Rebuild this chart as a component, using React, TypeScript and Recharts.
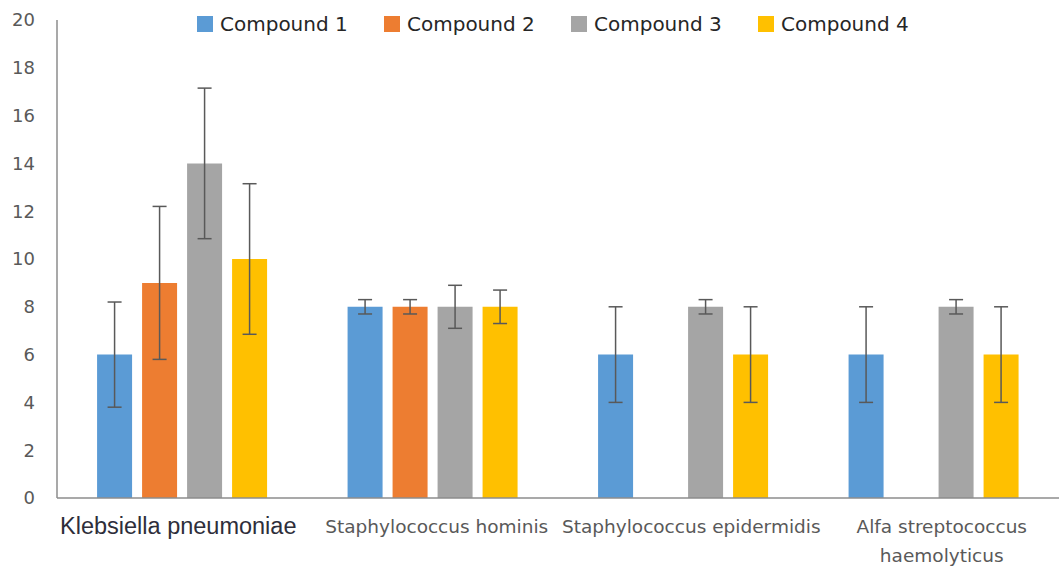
import { Bar, BarChart, ErrorBar, Legend, XAxis, YAxis } from "recharts";

const categories = [
  "Klebsiella pneumoniae",
  "Staphylococcus hominis",
  "Staphylococcus epidermidis",
  "Alfa streptococcus haemolyticus",
];
const seriesNames = ["Compound 1", "Compound 2", "Compound 3", "Compound 4"];
const colors = ["#5B9BD5", "#ED7D31", "#A5A5A5", "#FFC000"];

const compound1 = [6, 8, 6, 6];
const compound2 = [9, 8, null, null];
const compound3 = [14, 8, 8, 8];
const compound4 = [10, 8, 6, 6];

const compound1Err = [2.2, 0.3, 2, 2];
const compound2Err = [3.2, 0.3, null, null];
const compound3Err = [3.15, 0.9, 0.3, 0.3];
const compound4Err = [3.15, 0.7, 2, 2];

const yTicks = [0, 2, 4, 6, 8, 10, 12, 14, 16, 18, 20];

const data = categories.map((name, i) => ({
  name,
  c1: compound1[i],
  c2: compound2[i],
  c3: compound3[i],
  c4: compound4[i],
  e1: compound1Err[i],
  e2: compound2Err[i],
  e3: compound3Err[i],
  e4: compound4Err[i],
}));

function CategoryTick({ x, y, payload, index }: any) {
  if (index === 0) {
    return (
      <text x={x - 4} y={y + 28} textAnchor="middle" fontFamily="Liberation Sans" fontSize={23.5} fill="#2e2e3a">
        {payload.value}
      </text>
    );
  }
  const label: string = payload.value;
  const lines = label === "Alfa streptococcus haemolyticus" ? ["Alfa streptococcus", "haemolyticus"] : [label];
  const dx = index === 1 ? 4 : 8;
  return (
    <text x={x + dx} y={y + 27} textAnchor="middle" fontFamily="DejaVu Sans" fontSize={18.5} fill="#595959">
      {lines.map((l, j) => (
        <tspan key={j} x={x + dx} dy={j === 0 ? 0 : 29}>
          {l}
        </tspan>
      ))}
    </text>
  );
}

function LegendBox() {
  return (
    <div style={{ display: "inline-flex", fontFamily: "DejaVu Sans", fontSize: 20, color: "#262626" }}>
      {seriesNames.map((s, i) => (
        <div key={s} style={{ display: "flex", alignItems: "center", width: 187 }}>
          <span style={{ width: 16, height: 16, background: colors[i], marginRight: 7, display: "inline-block" }} />
          <span>{s}</span>
        </div>
      ))}
    </div>
  );
}

export default function App() {
  const keys = ["c1", "c2", "c3", "c4"];
  const errs = ["e1", "e2", "e3", "e4"];
  return (
    <div style={{ position: "absolute", left: 0, top: 0, width: 1059, height: 566, background: "#fff" }}>
      <BarChart
        width={1059}
        height={566}
        data={data}
        margin={{ top: 20, right: 0, bottom: 0, left: 0 }}
        barCategoryGap="16%"
        barGap={10}
      >
        <XAxis
          dataKey="name"
          height={68}
          tickLine={false}
          axisLine={{ stroke: "#8c8c8c", strokeWidth: 1.5 }}
          interval={0}
          tick={<CategoryTick />}
        />
        <YAxis
          width={57}
          domain={[0, 20]}
          ticks={yTicks}
          tickLine={false}
          tickSize={0}
          tickMargin={22}
          axisLine={{ stroke: "#8c8c8c", strokeWidth: 1.5 }}
          tick={{ fill: "#595959", fontSize: 18, fontFamily: "DejaVu Sans" }}
        />
        <Legend
          verticalAlign="middle"
          align="center"
          wrapperStyle={{ top: 12, left: 197, width: "auto" }}
          content={() => <LegendBox />}
        />
        {keys.map((k, i) => (
          <Bar key={k} dataKey={k} name={seriesNames[i]} fill={colors[i]} isAnimationActive={false}>
            <ErrorBar dataKey={errs[i]} width={7} stroke="#595959" strokeWidth={1.5} direction="y" />
          </Bar>
        ))}
      </BarChart>
    </div>
  );
}
